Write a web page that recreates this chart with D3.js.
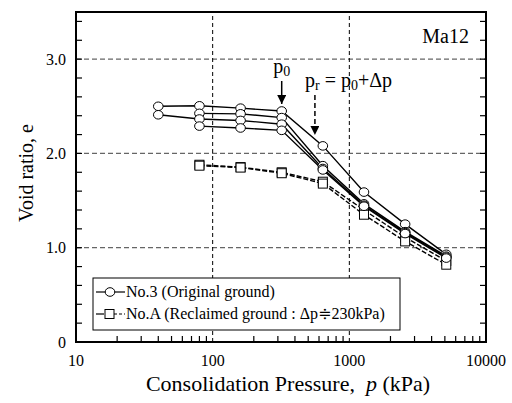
<!DOCTYPE html>
<html>
<head>
<meta charset="utf-8">
<title>Ma12 e-log p</title>
<style>
  body { margin: 0; background: #fff; }
</style>
</head>
<body>
<script src="https://cdn.jsdelivr.net/npm/d3@7"></script>
<script>
// pressures (kPa)
var pressures = [40, 80, 160, 320, 640, 1280, 2560, 5120];

// No.3 (original ground) - circles, solid
var orig1 = [2.50, 2.505, 2.48, 2.45, 2.08, 1.59, 1.25, 0.93];
var orig2 = [null, 2.425, 2.42, 2.38, 1.87, 1.465, 1.17, 0.91];
var orig3 = [2.41, 2.365, 2.35, 2.31, 1.84, 1.45, 1.16, 0.90];
var orig4 = [null, 2.29, 2.27, 2.245, 1.825, 1.44, 1.15, 0.89];

// No.A (reclaimed ground) - squares, dashed
var recl1 = [null, 1.88, 1.855, 1.80, 1.70, 1.40, 1.11, 0.86];
var recl2 = [null, 1.87, 1.85, 1.79, 1.68, 1.35, 1.067, 0.82];

var xTicks = [10, 100, 1000, 10000];
var yTicks = [0, 1.0, 2.0, 3.0];

var width = 512, height = 403;
var margin = {left: 76, right: 26, top: 12, bottom: 61};
var serif = "'Liberation Serif', 'Times New Roman', 'DejaVu Serif', serif";

var svg = d3.select("body").append("svg")
    .attr("width", width)
    .attr("height", height)
    .attr("font-family", serif)
    .style("font-family", serif);

var x = d3.scaleLog().domain([10, 10000]).range([margin.left, width - margin.right]);
var y = d3.scaleLinear().domain([0, 3.5]).range([height - margin.bottom, margin.top]);

var x0 = x.range()[0], x1 = x.range()[1], y0 = y.range()[0], y1 = y.range()[1];

// grid lines
svg.append("g").selectAll("line")
    .data([1, 2, 3])
    .join("line")
    .attr("x1", x0).attr("x2", x1)
    .attr("y1", d => y(d)).attr("y2", d => y(d))
    .attr("stroke", "#666")
    .attr("stroke-width", 1.2)
    .attr("stroke-dasharray", "5,3");

svg.append("g").selectAll("line")
    .data([100, 1000])
    .join("line")
    .attr("x1", d => x(d)).attr("x2", d => x(d))
    .attr("y1", y0).attr("y2", y1)
    .attr("stroke", "#000")
    .attr("stroke-width", 1)
    .attr("stroke-dasharray", "4,3");

// minor ticks
var yMinor = d3.range(0, 3.5001, 0.2);
svg.append("g").selectAll("line")
    .data(yMinor)
    .join("line")
    .attr("x1", x0).attr("x2", x0 + 6)
    .attr("y1", d => y(d)).attr("y2", d => y(d))
    .attr("stroke", "#000").attr("stroke-width", 1.2);
svg.append("g").selectAll("line")
    .data(yMinor)
    .join("line")
    .attr("x1", x1).attr("x2", x1 - 6)
    .attr("y1", d => y(d)).attr("y2", d => y(d))
    .attr("stroke", "#000").attr("stroke-width", 1.2);

var xMinor = [];
[10, 100, 1000].forEach(function (dec) {
    for (var i = 2; i <= 9; i++) xMinor.push(dec * i);
});
svg.append("g").selectAll("line")
    .data(xMinor)
    .join("line")
    .attr("x1", d => x(d)).attr("x2", d => x(d))
    .attr("y1", y0).attr("y2", y0 - 6)
    .attr("stroke", "#000").attr("stroke-width", 1.2);

// frame
svg.append("rect")
    .attr("x", x0).attr("y", y1)
    .attr("width", x1 - x0).attr("height", y0 - y1)
    .attr("fill", "none")
    .attr("stroke", "#000")
    .attr("stroke-width", 2);

// tick labels
svg.append("g").selectAll("text")
    .data(yTicks)
    .join("text")
    .attr("x", x0 - 10)
    .attr("y", d => y(d))
    .attr("dy", "0.35em")
    .attr("text-anchor", "end")
    .attr("font-size", 16)
    .text(d => d === 0 ? "0" : d.toFixed(1));

svg.append("g").selectAll("text")
    .data(xTicks)
    .join("text")
    .attr("x", d => x(d))
    .attr("y", y0 + 24)
    .attr("text-anchor", "middle")
    .attr("font-size", 16)
    .text(d => d);

// axis titles
var xt = svg.append("text")
    .attr("x", 288).attr("y", 391)
    .attr("text-anchor", "middle")
    .attr("font-size", 22)
    .attr("xml:space", "preserve");
xt.append("tspan").text("Consolidation Pressure,  ");
xt.append("tspan").attr("font-style", "italic").text("p");
xt.append("tspan").text(" (kPa)");

svg.append("text")
    .attr("transform", "translate(33,173) rotate(-90)")
    .attr("text-anchor", "middle")
    .attr("font-size", 20)
    .text("Void ratio, e");

// series
function pts(vals) {
    return pressures.map((p, i) => [p, vals[i]]).filter(d => d[1] != null);
}
var line = d3.line().x(d => x(d[0])).y(d => y(d[1]));

var recl = [recl1, recl2];
var orig = [orig1, orig2, orig3, orig4];

svg.append("g").selectAll("path")
    .data(recl)
    .join("path")
    .attr("d", d => line(pts(d)))
    .attr("fill", "none")
    .attr("stroke", "#000")
    .attr("stroke-width", 1.4)
    .attr("stroke-dasharray", "5,2");

recl.forEach(function (s) {
    svg.append("g").selectAll("rect")
        .data(pts(s))
        .join("rect")
        .attr("x", d => x(d[0]) - 4.5)
        .attr("y", d => y(d[1]) - 4.5)
        .attr("width", 9).attr("height", 9)
        .attr("fill", "#fff")
        .attr("stroke", "#000")
        .attr("stroke-width", 1);
});

svg.append("g").selectAll("path")
    .data(orig)
    .join("path")
    .attr("d", d => line(pts(d)))
    .attr("fill", "none")
    .attr("stroke", "#000")
    .attr("stroke-width", 1.4);

orig.forEach(function (s) {
    svg.append("g").selectAll("ellipse")
        .data(pts(s))
        .join("ellipse")
        .attr("cx", d => x(d[0]))
        .attr("cy", d => y(d[1]))
        .attr("rx", 4.8).attr("ry", 4.3)
        .attr("fill", "#fff")
        .attr("stroke", "#000")
        .attr("stroke-width", 1);
});

// annotations
svg.append("defs").append("marker")
    .attr("id", "ah")
    .attr("viewBox", "0 0 10 10")
    .attr("refX", 10).attr("refY", 5)
    .attr("markerWidth", 6).attr("markerHeight", 6)
    .attr("orient", "auto")
    .append("path")
    .attr("d", "M0,0L10,5L0,10z")
    .attr("fill", "#000");

var p0x = x(320);
svg.append("line")
    .attr("x1", p0x).attr("x2", p0x)
    .attr("y1", 81).attr("y2", 104)
    .attr("stroke", "#000").attr("stroke-width", 1.5)
    .attr("marker-end", "url(#ah)");
var t0 = svg.append("text").attr("x", p0x).attr("y", 73)
    .attr("text-anchor", "middle").attr("font-size", 20);
t0.append("tspan").text("p");
t0.append("tspan").attr("font-size", 14).attr("dy", 3).text("0");

var prx = x(560);
svg.append("line")
    .attr("x1", prx).attr("x2", prx)
    .attr("y1", 95).attr("y2", 135)
    .attr("stroke", "#000").attr("stroke-width", 1.5)
    .attr("stroke-dasharray", "5,3")
    .attr("marker-end", "url(#ah)");
var tr = svg.append("text").attr("x", 305).attr("y", 87).attr("font-size", 20);
tr.append("tspan").text("p");
tr.append("tspan").attr("font-size", 14).attr("dy", 3).text("r");
tr.append("tspan").attr("dy", -3).text(" = p");
tr.append("tspan").attr("font-size", 14).attr("dy", 3).text("0");
tr.append("tspan").attr("dy", -3).text("+Δp");

svg.append("text")
    .attr("x", 469).attr("y", 43)
    .attr("text-anchor", "end")
    .attr("font-size", 20)
    .text("Ma12");

// legend
var lg = svg.append("g");
lg.append("rect")
    .attr("x", 93).attr("y", 278)
    .attr("width", 307).attr("height", 52)
    .attr("fill", "#fff")
    .attr("stroke", "#000")
    .attr("stroke-width", 1);

lg.append("line").attr("x1", 96).attr("x2", 125).attr("y1", 292).attr("y2", 292)
    .attr("stroke", "#000").attr("stroke-width", 1.2);
lg.append("ellipse").attr("cx", 110).attr("cy", 292).attr("rx", 4.8).attr("ry", 4.3)
    .attr("fill", "#fff").attr("stroke", "#000");
lg.append("text").attr("x", 126).attr("y", 297).attr("font-size", 16)
    .text("No.3 (Original ground)");

lg.append("line").attr("x1", 96).attr("x2", 104).attr("y1", 314).attr("y2", 314)
    .attr("stroke", "#000").attr("stroke-width", 1.2);
lg.append("line").attr("x1", 114).attr("x2", 125).attr("y1", 314).attr("y2", 314)
    .attr("stroke", "#000").attr("stroke-width", 1.2).attr("stroke-dasharray", "3,2");
lg.append("rect").attr("x", 105).attr("y", 309.5).attr("width", 9).attr("height", 9)
    .attr("fill", "#fff").attr("stroke", "#000");
lg.append("text").attr("x", 126).attr("y", 319).attr("font-size", 16)
    .text("No.A (Reclaimed ground : Δp≑230kPa)");
</script>
</body>
</html>
